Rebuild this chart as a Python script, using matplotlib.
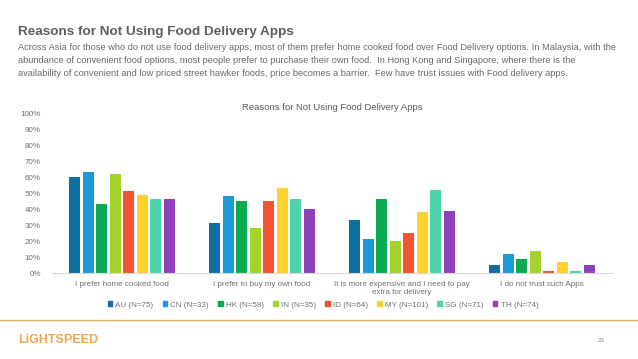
import numpy as np
import matplotlib.pyplot as plt
from matplotlib.patches import Patch

plt.rcParams['font.family'] = ['Liberation Sans', 'DejaVu Sans']

# data (percent)
categories = ['I prefer home cooked food', 'I prefer to buy my own food',
              'It is more expensive and I need to pay\nextra for delivery', 'I do not trust such Apps']
countries = ['AU (N=75)', 'CN (N=33)', 'HK (N=58)', 'IN (N=35)',
             'ID (N=64)', 'MY (N=101)', 'SG (N=71)', 'TH (N=74)']
au = [60, 31, 33, 5]
cn = [63, 48, 21, 12]
hk = [43, 45, 46, 8.5]
india = [62, 28, 20, 14]
idn = [51, 45, 25, 1.5]
my = [49, 53, 38, 7]
sg = [46, 46, 52, 1.2]
th = [46, 40, 39, 5]
series = [au, cn, hk, india, idn, my, sg, th]
colors = ['#0C6FA0', '#1B9AD8', '#0BAA52', '#A3D22A', '#F4532F', '#FDD22C', '#4ED3AB', '#8F3FB8']

W, H = 638, 359
fig = plt.figure(figsize=(W / 100, H / 100), dpi=100)

def fx(px):
    return px / W

def fy(py):
    return 1 - py / H

# header text
fig.text(fx(18), fy(32), 'Reasons for Not Using Food Delivery Apps', fontsize=9.7,
         fontweight='bold', color='#5f5f5f', va='center', ha='left')
body = ("Across Asia for those who do not use food delivery apps, most of them prefer home cooked food over Food Delivery options. In Malaysia, with the\n"
        "abundance of convenient food options, most people prefer to purchase their own food.  In Hong Kong and Singapore, where there is the\n"
        "availability of convenient and low priced street hawker foods, price becomes a barrier.  Few have trust issues with Food delivery apps.")
fig.text(fx(18), fy(43), body, fontsize=6.7, color='#6a6a6a', va='top', ha='left',
         linespacing=1.55)

# chart
ax = fig.add_axes([fx(52), fy(273), fx(612) - fx(52), fy(113) - fy(273)])
x = np.arange(len(categories))
pitch = 13.5 / 140
bw = 11 / 140
for i, (vals, c) in enumerate(zip(series, colors)):
    ax.bar(x + (i - 3.5) * pitch, vals, width=bw, color=c)

ax.set_xlim(-0.5, 3.5)
ax.set_ylim(0, 100)
ax.set_yticks(np.arange(0, 101, 10))
ax.set_yticklabels([f'{v}%' for v in range(0, 101, 10)])
ax.set_xticks(x)
ax.set_xticklabels(categories)
ax.tick_params(axis='both', length=0, labelsize=5.8, colors='#707070')
ax.tick_params(axis='y', pad=8)
ax.tick_params(axis='x', pad=5.5)
for s in ['top', 'right', 'left']:
    ax.spines[s].set_visible(False)
ax.spines['bottom'].set_color('#d9d9d9')
ax.spines['bottom'].set_linewidth(0.8)
ax.set_title('Reasons for Not Using Food Delivery Apps', fontsize=6.8, color='#595959', pad=2)

handles = [Patch(color=c, label=l) for c, l in zip(colors, countries)]
fig.legend(handles=handles, loc='center', bbox_to_anchor=(fx(323), fy(305)), ncol=8,
           frameon=False, fontsize=5.8, handlelength=0.55, handleheight=0.55,
           handletextpad=0.4, columnspacing=1.15, labelcolor='#707070')

# footer
line_y = fy(320)
fig.add_artist(plt.Line2D([0, 1], [line_y, line_y], transform=fig.transFigure,
                          color='#D9B455', linewidth=1.0))
fig.text(fx(18), fy(340), 'LiGHTSPEED', fontsize=9, fontweight='bold', color='#F1A54A',
         va='center', ha='left')
fig.text(fx(601), fy(340), '23', fontsize=4.5, color='#888888', va='center', ha='center')

fig.savefig('out.png', dpi=100, facecolor='white')
